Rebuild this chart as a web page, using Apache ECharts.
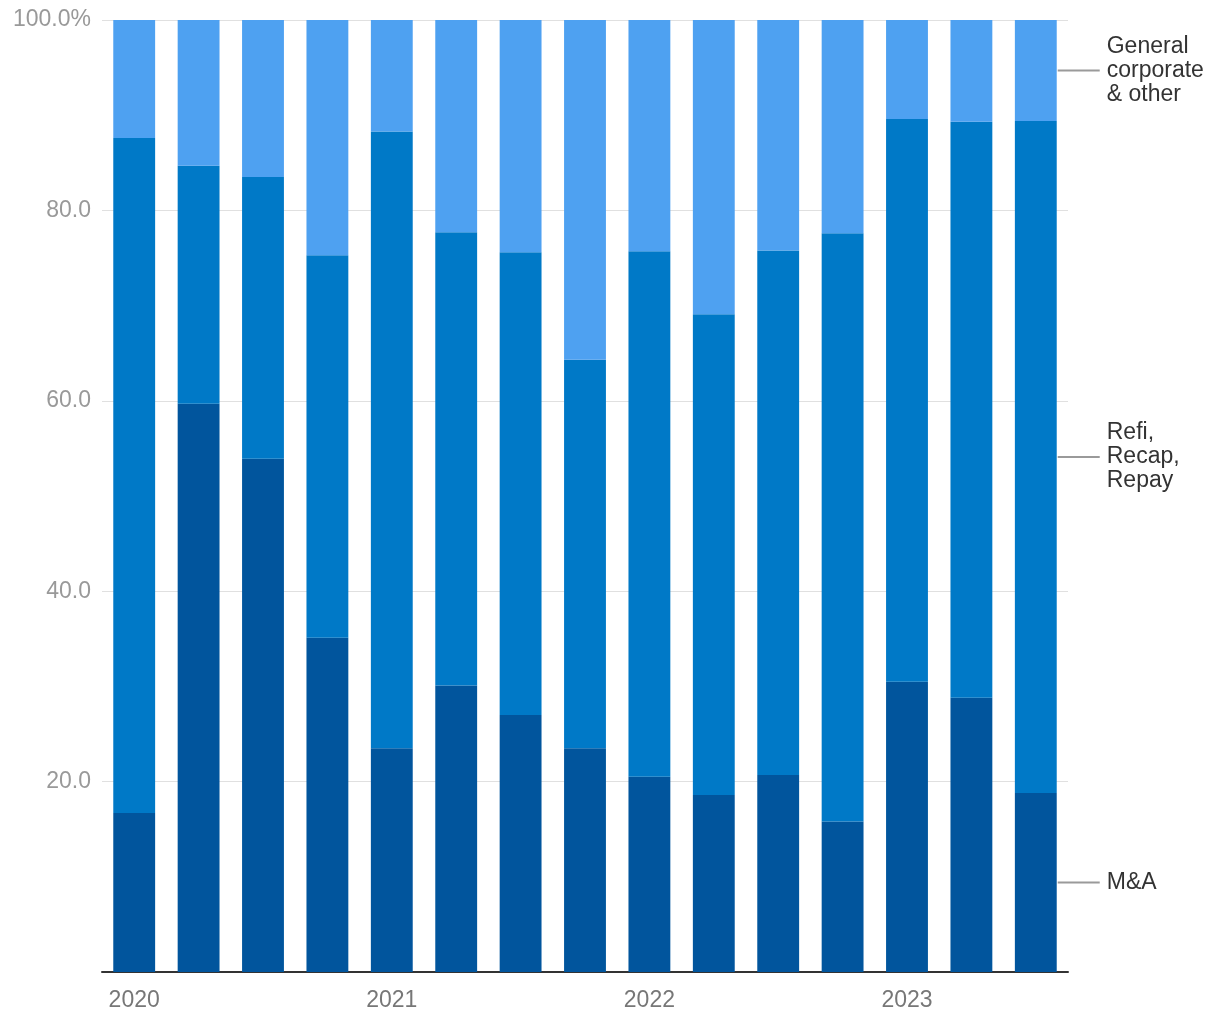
<!DOCTYPE html>
<html><head><meta charset="utf-8">
<script src="https://cdn.jsdelivr.net/npm/echarts@6/dist/echarts.min.js"></script>
<style>html,body{margin:0;padding:0;background:#fff}#c{width:1220px;height:1020px}</style>
</head><body><div id="c"></div>
<script>
var categories = ['2020 Q1','2020 Q2','2020 Q3','2020 Q4','2021 Q1','2021 Q2','2021 Q3','2021 Q4','2022 Q1','2022 Q2','2022 Q3','2022 Q4','2023 Q1','2023 Q2','2023 Q3'];
var mna = [16.7, 59.7, 53.9, 35.1, 23.5, 30.1, 27.0, 23.5, 20.5, 18.6, 20.7, 15.8, 30.5, 28.8, 18.8];
var refi = [70.9, 25.0, 29.6, 40.2, 64.8, 47.6, 48.6, 40.8, 55.2, 50.5, 55.1, 61.8, 59.1, 60.5, 70.6];
var general = [12.4, 15.3, 16.5, 24.7, 11.7, 22.3, 24.4, 35.7, 24.3, 30.9, 24.2, 22.4, 10.4, 10.7, 10.6];
var yTicks = [0, 20, 40, 60, 80, 100];

var FONT = '"Liberation Sans", Arial, Helvetica, sans-serif';
var lastIdx = categories.length - 1;
var rich = {
  s: {width: 49},
  l: {width: 42, height: 2, backgroundColor: '#9a9a9a'},
  g: {width: 7},
  t: {fontSize: 23, color: '#333', fontFamily: FONT, lineHeight: 24}
};
function endLabel(lines) {
  var mid = Math.floor(lines.length / 2);
  return lines.map(function (t, i) {
    return (i === mid ? '{l|}{g|}' : '{s|}') + '{t|' + t + '}';
  }).join('\n');
}
function mk(name, vals, color, lines) {
  return {
    name: name, type: 'bar', stack: 'total', barCategoryGap: '35%',
    itemStyle: {color: color},
    data: vals.map(function (v, i) {
      if (i !== lastIdx) return v;
      return {value: v, label: {show: true, position: 'right', distance: 1,
        formatter: endLabel(lines), rich: rich, lineHeight: 24}};
    })
  };
}
var chart = echarts.init(document.getElementById('c'), null, {renderer: 'canvas'});
chart.setOption({
  animation: false,
  grid: {left: 102, right: 152, top: 20, bottom: 48, containLabel: false},
  xAxis: {
    type: 'category', data: categories,
    axisLine: {show: true, lineStyle: {color: '#333', width: 2}},
    axisTick: {show: false},
    axisLabel: {
      interval: 0, margin: 17, fontSize: 23, color: '#777', fontFamily: FONT,
      formatter: function (v) { return v.indexOf('Q1') >= 0 ? v.slice(0, 4) : ''; }
    }
  },
  yAxis: {
    type: 'value', min: 0, max: 100, interval: 20,
    axisLine: {show: false}, axisTick: {show: false},
    splitLine: {lineStyle: {color: '#e0e0e0', width: 1}},
    axisLabel: {
      margin: 11, fontSize: 23, color: '#999', fontFamily: FONT,
      formatter: function (v) { return v === 0 ? '' : (v === 100 ? '100.0%' : v.toFixed(1)); }
    }
  },
  series: [
    mk('M&A', mna, '#01559d', ['M&A']),
    mk('Refi, Recap, Repay', refi, '#0079c7', ['Refi,', 'Recap,', 'Repay']),
    mk('General corporate & other', general, '#4ea1f1', ['General', 'corporate', '& other'])
  ]
});
</script></body></html>
